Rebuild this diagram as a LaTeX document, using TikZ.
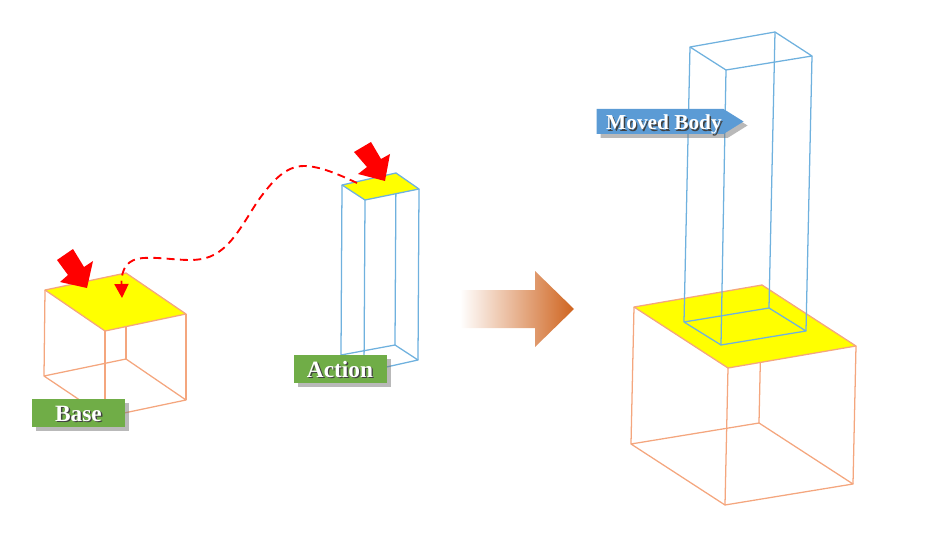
\documentclass[tikz,border=0pt]{standalone}
\usepackage{fontspec}
\setmainfont{Liberation Serif}
\usetikzlibrary{arrows.meta,shadows,shapes.symbols}

\definecolor{wireorange}{HTML}{F4A67E}
\definecolor{wireblue}{HTML}{6FB1DE}
\definecolor{labelgreen}{HTML}{70AD47}
\definecolor{labelblue}{HTML}{5B9BD5}
\definecolor{bigorange}{HTML}{CF641F}
\definecolor{midorange}{HTML}{F2B58E}
\definecolor{faceyellow}{HTML}{FFFF00}
\definecolor{pointerred}{HTML}{FF0000}

\newcommand{\shadowtext}[1]{\makebox[0pt][l]{\kern1pt\raisebox{-1pt}{\color{black!75}#1}}#1}

\tikzstyle{every node}=[font={\fontsize{17.5}{18}\selectfont\bfseries}, text=white, inner sep=0pt, text height=12.6pt, text depth=0pt]
\tikzstyle{wire}=[line width=0.95pt, line join=round]
\tikzstyle{basewire}=[wire, draw=wireorange]
\tikzstyle{bodywire}=[wire, draw=wireblue]
\tikzstyle{face}=[fill=faceyellow]
\tikzstyle{pointer}=[fill=pointerred]
\tikzstyle{path}=[draw=pointerred, line width=1.4pt, dash pattern=on 6pt off 4pt, -{Triangle[length=10.5pt,width=10.5pt,fill=pointerred]}]
\tikzstyle{tag}=[fill=labelgreen, minimum width=69.75pt, minimum height=21pt, drop shadow={shadow xshift=3pt, shadow yshift=-3pt, fill=black!55}]
\tikzstyle{movedtag}=[shape=signal, signal to=east, signal pointer angle=64, fill=labelblue, font={\fontsize{16}{18}\selectfont\bfseries}, minimum width=110.25pt, minimum height=18.75pt, drop shadow={shadow xshift=3pt, shadow yshift=-3pt, fill=black!55}]

\begin{document}
\begin{tikzpicture}[x=0.75pt, y=-0.75pt]
    \useasboundingbox (0,0) rectangle (929,542);

    % small base
    \coordinate (a1) at (45,290);
    \coordinate (b1) at (126,273);
    \coordinate (c1) at (186,314);
    \coordinate (d1) at (105,331);
    \coordinate (e1) at (44,376);
    \coordinate (f1) at (126,359);
    \coordinate (g1) at (186,400);
    \coordinate (h1) at (105,417);
    \draw [basewire] (b1) -- (f1);
    \draw [basewire] (a1) -- (e1) -- (h1) -- (g1) -- (f1) -- (e1);
    \draw [basewire] (c1) -- (g1);
    \draw [basewire] (d1) -- (h1);
    \draw [basewire, face] (a1) -- (b1) -- (c1) -- (d1) -- cycle;

    % small action
    \coordinate (a2) at (342,185);
    \coordinate (b2) at (396,173);
    \coordinate (c2) at (419,189);
    \coordinate (d2) at (365,200);
    \coordinate (e2) at (341,355);
    \coordinate (f2) at (395,345);
    \coordinate (g2) at (418,360);
    \coordinate (h2) at (364,372);
    \draw [bodywire] (b2) -- (f2);
    \draw [bodywire] (a2) -- (e2) -- (f2) -- (g2) -- (h2) -- (e2);
    \draw [bodywire] (c2) -- (g2);
    \draw [bodywire] (d2) -- (h2);
    \draw [bodywire, face] (a2) -- (b2) -- (c2) -- (d2) -- cycle;

    % pointers
    \fill [pointer] (57,260) -- (73,249) -- (84,267) -- (93,261) -- (87,288) -- (60,282) -- (68,275) -- cycle;
    \fill [pointer] (354,152) -- (371,142) -- (381,159) -- (390,154) -- (385,181) -- (358,174) -- (367,167) -- cycle;

    % the curve
    \coordinate (pick2) at (357,183);
    \coordinate (crest) at (304,166);
    \coordinate (rise) at (260,198);
    \coordinate (slope) at (227,245);
    \coordinate (trough) at (190,260);
    \coordinate (bend) at (143,258);
    \coordinate (pick1) at (122,298);
    \draw [path] (pick2) .. controls (340,175) and (320,166) .. (crest)
        .. controls (285,166) and (272,182) .. (rise)
        .. controls (250,212) and (240,232) .. (slope)
        .. controls (216,256) and (205,260) .. (trough)
        .. controls (175,260) and (158,257) .. (bend)
        .. controls (128,259) and (121,268) .. (pick1);

    % big arrow
    \shade [left color=white, middle color=midorange, right color=bigorange]
        (460,290) -- (535,290) -- (535,271) -- (574,309) -- (535,347) -- (535,328) -- (460,328) -- cycle;

    % big base
    \coordinate (a3) at (634,307);
    \coordinate (b3) at (762,285);
    \coordinate (c3) at (856,346);
    \coordinate (d3) at (728,368);
    \coordinate (e3) at (631,444);
    \coordinate (f3) at (759,423);
    \coordinate (g3) at (853,484);
    \coordinate (h3) at (725,505);
    \draw [basewire] (b3) -- (f3);
    \draw [basewire] (a3) -- (e3) -- (h3) -- (g3) -- (f3) -- (e3);
    \draw [basewire] (c3) -- (g3);
    \draw [basewire] (d3) -- (h3);
    \draw [basewire, face] (a3) -- (b3) -- (c3) -- (d3) -- cycle;

    % moved body
    \coordinate (a4) at (690,47);
    \coordinate (b4) at (775,32);
    \coordinate (c4) at (812,56);
    \coordinate (d4) at (726,70);
    \coordinate (e4) at (684,322);
    \coordinate (f4) at (769,308);
    \coordinate (g4) at (806,331);
    \coordinate (h4) at (721,345);
    \draw [bodywire] (a4) -- (b4) -- (c4) -- (d4) -- cycle;
    \draw [bodywire] (e4) -- (f4) -- (g4) -- (h4) -- cycle;
    \draw [bodywire] (a4) -- (e4);
    \draw [bodywire] (b4) -- (f4);
    \draw [bodywire] (c4) -- (g4);
    \draw [bodywire] (d4) -- (h4);

    % labels
    \node [tag] (base) at (78.5,413) {\shadowtext{Base}};
    \node [tag] (action) at (340,369) {\shadowtext{Action}};
    \node [movedtag] (moved) at (660,121.5) {\kern6pt\shadowtext{Moved Body}};
\end{tikzpicture}
\end{document}
